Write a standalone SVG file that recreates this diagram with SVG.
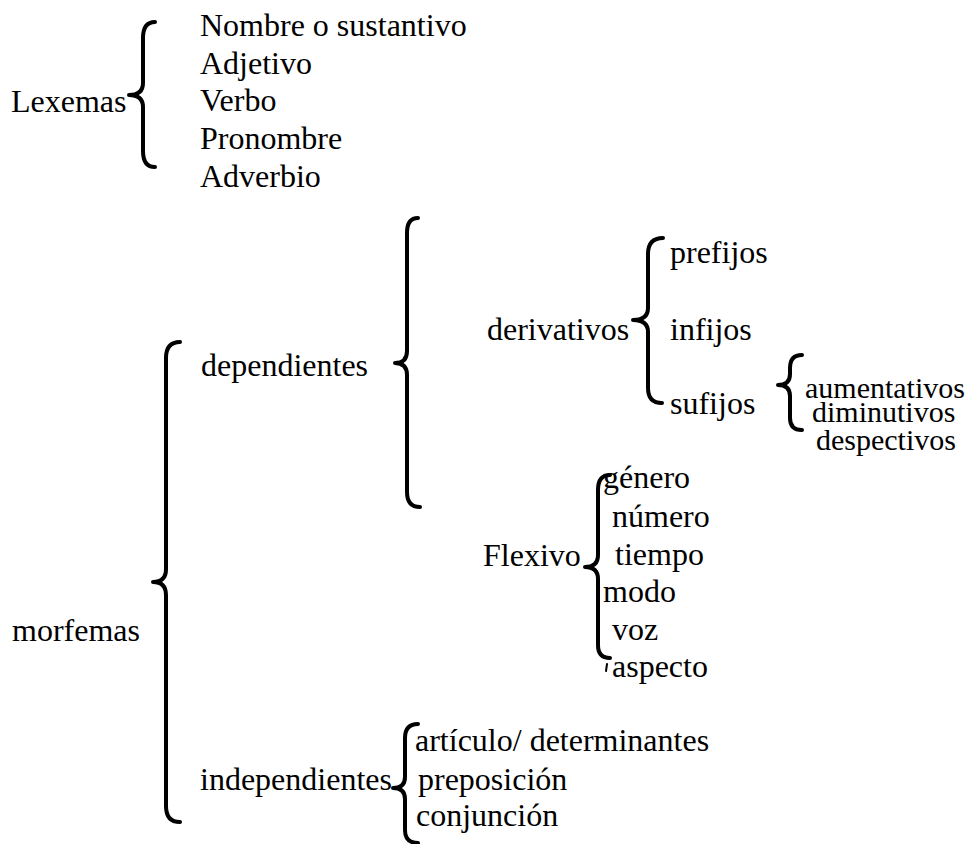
<svg xmlns="http://www.w3.org/2000/svg" width="975" height="844" viewBox="0 0 975 844" font-family="'Liberation Serif', 'Times New Roman', Tinos, 'DejaVu Serif', serif">
<style>
text{font-family:'Liberation Serif','Times New Roman',Tinos,'DejaVu Serif',serif;font-size:32px;fill:#000}
text.sm{font-size:30px}
.brace{fill:none;stroke:#000;stroke-width:4;stroke-linecap:round;stroke-linejoin:round}
.tick{fill:none;stroke:#000;stroke-width:2;stroke-linecap:round}
</style>
<rect width="975" height="844" fill="#fff"/>
<g id="connectors">
<path class="brace" d="M155,22 Q143,22 143,38 L143,83 Q143,95 129,95 Q143,95 143,107 L143,151 Q143,167 155,167"/>
<path class="brace" d="M180,342 Q166,342 166,358 L166,569 Q166,582 153,582 Q166,582 166,595 L166,806 Q166,822 180,822"/>
<path class="brace" d="M418,218 Q407,218 407,233 L407,351 Q407,363 395,363 Q407,363 407,375 L407,492 Q407,507 420,507"/>
<path class="brace" d="M663,238 Q648,238 648,254 L648,308 Q648,320 633,320 Q648,320 648,332 L648,388 Q648,403 662,403"/>
<path class="brace" d="M802,355 Q790,355 790,368 L790,374 Q790,385 778,385 Q790,385 790,396 L790,418 Q790,430 802,430"/>
<path class="brace" d="M610,475 Q598,475 598,490 L598,555 Q598,567 585,567 Q598,567 598,579 L598,645 Q598,658 610,658"/>
<path class="tick" d="M607,664 L606,671"/>
<path class="brace" d="M418,724 Q405,724 405,738 L405,777 Q405,788 393,788 Q405,788 405,799 L405,830 Q405,843 418,843"/>
</g>
<g id="lexemas"><text x="11" y="112">Lexemas</text></g>
<g id="lexemas-items">
<text x="200" y="36">Nombre o sustantivo</text>
<text x="200" y="74">Adjetivo</text>
<text x="200" y="111">Verbo</text>
<text x="200" y="149">Pronombre</text>
<text x="200" y="187">Adverbio</text>
</g>
<g id="morfemas"><text x="12" y="641">morfemas</text></g>
<g id="dependientes"><text x="201" y="376">dependientes</text></g>
<g id="independientes"><text x="200" y="790">independientes</text></g>
<g id="derivativos"><text x="487" y="340">derivativos</text></g>
<g id="derivativos-items">
<text x="670" y="263">prefijos</text>
<text x="670" y="340">infijos</text>
<text x="670" y="414">sufijos</text>
</g>
<g id="sufijos-items">
<text class="sm" x="805" y="398">aumentativos</text>
<text class="sm" x="812" y="422">diminutivos</text>
<text class="sm" x="816" y="450">despectivos</text>
</g>
<g id="flexivo"><text x="483" y="566">Flexivo</text></g>
<g id="flexivo-items">
<text x="603" y="488">género</text>
<text x="612" y="527">número</text>
<text x="615" y="565">tiempo</text>
<text x="603" y="602">modo</text>
<text x="612" y="640">voz</text>
<text x="612" y="677">aspecto</text>
</g>
<g id="independientes-items">
<text x="415" y="751">artículo/ determinantes</text>
<text x="418" y="790">preposición</text>
<text x="416" y="826">conjunción</text>
</g>
</svg>
